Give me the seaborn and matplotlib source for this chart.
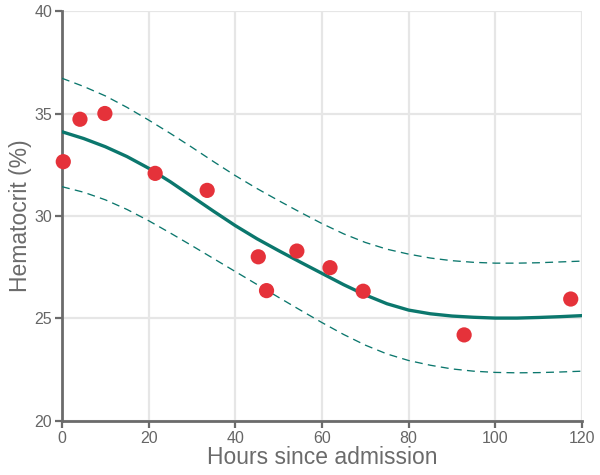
import numpy as np
import pandas as pd
import matplotlib
matplotlib.use("Agg")
import matplotlib.pyplot as plt
import seaborn as sns

# observed points
hours = [0.3, 4.15, 9.9, 21.5, 33.5, 45.3, 47.2, 54.2, 61.85, 69.5, 92.8, 117.4]
hematocrit = [32.65, 34.72, 35.0, 32.08, 31.25, 28.01, 26.36, 28.29, 27.48, 26.33, 24.2, 25.95]

# fitted curve and prediction band
curve_hours = [0, 5, 10, 15, 20, 25, 30, 35, 40, 45, 50, 55, 60,
               65, 70, 75, 80, 85, 90, 95, 100, 105, 110, 115, 120]
fit_mean = [34.11, 33.78, 33.38, 32.90, 32.33, 31.67, 30.95, 30.23, 29.53, 28.89, 28.31, 27.75, 27.20,
            26.65, 26.15, 25.72, 25.41, 25.23, 25.12, 25.06, 25.02, 25.02, 25.05, 25.09, 25.14]
fit_upper = [36.72, 36.32, 35.86, 35.30, 34.68, 34.03, 33.35, 32.65, 31.97, 31.34, 30.75, 30.18, 29.63,
             29.13, 28.71, 28.38, 28.14, 27.95, 27.82, 27.74, 27.70, 27.70, 27.72, 27.76, 27.80]
fit_lower = [31.43, 31.16, 30.79, 30.32, 29.77, 29.17, 28.55, 27.92, 27.29, 26.66, 26.03, 25.41, 24.80,
             24.22, 23.70, 23.27, 22.95, 22.72, 22.54, 22.43, 22.37, 22.35, 22.36, 22.39, 22.43]

x_ticks = [0, 20, 40, 60, 80, 100, 120]
y_ticks = [20, 25, 30, 35, 40]

sns.set_theme(style="white")
plt.rcParams["font.family"] = ["Liberation Sans", "DejaVu Sans"]

fit = pd.DataFrame({"x": curve_hours, "fit": fit_mean, "up": fit_upper, "lo": fit_lower})
pts = pd.DataFrame({"h": hours, "v": hematocrit})

fig = plt.figure(figsize=(6, 4.75), dpi=100)
ax = fig.add_axes([0.1033, 0.1137, 0.8667, 0.8631])

teal = "#0b776d"
sns.lineplot(data=fit, x="x", y="fit", ax=ax, color=teal, lw=2.4, zorder=3)
sns.lineplot(data=fit, x="x", y="up", ax=ax, color=teal, lw=0.95, zorder=3)
sns.lineplot(data=fit, x="x", y="lo", ax=ax, color=teal, lw=0.95, zorder=3)
for ln in ax.lines[1:3]:
    ln.set_dashes([6, 4])
sns.scatterplot(data=pts, x="h", y="v", ax=ax, color="#e5323a", s=120,
                edgecolor="none", zorder=5, clip_on=False)

ax.set_xlim(0, 120)
ax.set_ylim(20, 40)
ax.set_xticks(x_ticks)
ax.set_yticks(y_ticks)
ax.grid(True, color="#e6e6e6", lw=1.6, zorder=0)
ax.set_axisbelow(True)
for side in ["top", "right"]:
    ax.spines[side].set_visible(False)
for side in ["left", "bottom"]:
    ax.spines[side].set_color("#6b6b6b")
    ax.spines[side].set_linewidth(2)
ax.tick_params(axis="both", colors="#6b6b6b", labelcolor="#666666", labelsize=11.5,
               length=5, width=1.6, direction="out", pad=2, bottom=True, left=True)
ax.set_xlabel("Hours since admission", fontsize=16.5, color="#6b6b6b", labelpad=0)
ax.set_ylabel("Hematocrit (%)", fontsize=16.5, color="#6b6b6b", labelpad=2)

fig.savefig("out.png", dpi=100)
